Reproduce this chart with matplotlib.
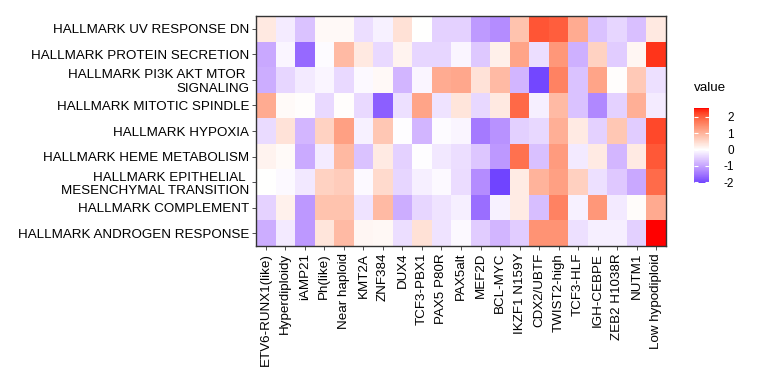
import numpy as np
import matplotlib
matplotlib.use("Agg")
import matplotlib.pyplot as plt
from matplotlib.colors import ListedColormap, Normalize

plt.rcParams["font.family"] = ["Liberation Sans", "DejaVu Sans"]
plt.rcParams["axes.unicode_minus"] = False

# gene sets (top to bottom)
pathways = [
    "HALLMARK UV RESPONSE DN",
    "HALLMARK PROTEIN SECRETION",
    "HALLMARK PI3K AKT MTOR \nSIGNALING",
    "HALLMARK MITOTIC SPINDLE",
    "HALLMARK HYPOXIA",
    "HALLMARK HEME METABOLISM",
    "HALLMARK EPITHELIAL \nMESENCHYMAL TRANSITION",
    "HALLMARK COMPLEMENT",
    "HALLMARK ANDROGEN RESPONSE",
]

subtypes = [
    "ETV6-RUNX1(like)", "Hyperdiploidy", "iAMP21", "Ph(like)", "Near haploid",
    "KMT2A", "ZNF384", "DUX4", "TCF3-PBX1", "PAX5 P80R", "PAX5alt", "MEF2D",
    "BCL-MYC", "IKZF1 N159Y", "CDX2/UBTF", "TWIST2-high", "TCF3-HLF",
    "IGH-CEBPE", "ZEB2 H1038R", "NUTM1", "Low hypodiploid",
]

uv_response_dn = [0.30, -0.20, -0.65, 0.08, 0.08, -0.35, -0.15, 0.40, 0.00, -0.50, -0.50,
                  -1.10, -1.25, 0.80, 2.10, 2.00, 1.10, -0.65, -0.45, -0.70, 0.30]
protein_secretion = [-0.95, -0.10, -1.65, -0.05, 0.90, 0.30, -0.40, 0.15, -0.45, -0.45, -0.10,
                     -0.60, 0.20, 1.20, -0.35, 1.35, -0.85, 0.60, -0.55, 0.12, 2.35]
pi3k_akt_mtor = [-0.90, -0.45, -0.22, -0.10, -0.40, -0.06, 0.08, -0.80, -0.10, 1.10, 1.15,
                 0.38, 0.90, -0.80, -2.00, 1.60, -0.65, 1.20, 0.02, 0.70, -0.33]
mitotic_spindle = [1.10, 0.07, 0.03, -0.40, 0.02, -0.40, -1.75, -0.33, 1.20, -0.30, 0.35,
                   -0.42, 0.30, 1.90, -0.18, 0.90, -0.65, -1.30, -0.50, 1.05, -0.20]
hypoxia = [-0.38, 0.38, -0.78, 0.60, 1.25, -0.15, 0.75, -0.03, -0.80, -0.04, -0.10,
           -1.45, -1.20, -0.52, -0.43, 1.05, 0.28, -0.50, 0.75, -0.55, 2.20]
heme_metabolism = [0.15, 0.07, -0.92, -0.20, 0.92, -0.65, 0.28, -0.50, -0.03, -0.25, -0.35,
                   -0.62, -1.12, 1.80, -0.68, 1.30, -0.22, 0.27, -0.78, 0.28, 2.05]
emt = [0.00, -0.07, -0.25, 0.60, 0.68, -0.07, 0.50, -0.45, -0.18, -0.07, -0.37,
       -1.25, -2.05, 0.25, 1.00, 1.25, 0.62, -0.33, -0.58, -0.95, 1.85]
complement = [-0.48, 0.18, -1.12, 0.80, 0.80, -0.30, 0.90, -0.90, -0.45, -0.30, -0.18,
              -1.60, -0.15, 0.25, -0.72, 1.60, -0.15, 1.35, -0.22, 0.04, 1.12]
androgen_response = [-0.90, -0.22, -1.12, 0.35, 0.90, 0.12, 0.10, -0.35, 0.40, -0.30, -0.07,
                     -0.55, -0.80, -0.55, 1.40, 1.40, -0.33, -0.18, -0.18, -0.52, 2.55]

values = np.array([uv_response_dn, protein_secretion, pi3k_akt_mtor, mitotic_spindle,
                   hypoxia, heme_metabolism, emt, complement, androgen_response])


# blue - white - red gradient interpolated in CIELAB (like ggplot's gradient2)
def srgb_to_lab(rgb):
    rgb = np.asarray(rgb, dtype=float)
    lin = np.where(rgb <= 0.04045, rgb / 12.92, ((rgb + 0.055) / 1.055) ** 2.4)
    m = np.array([[0.4124, 0.3576, 0.1805],
                  [0.2126, 0.7152, 0.0722],
                  [0.0193, 0.1192, 0.9505]])
    xyz = lin @ m.T / np.array([0.95047, 1.0, 1.08883])
    f = np.where(xyz > 0.008856, np.cbrt(xyz), 7.787 * xyz + 16 / 116)
    return np.stack([116 * f[..., 1] - 16,
                     500 * (f[..., 0] - f[..., 1]),
                     200 * (f[..., 1] - f[..., 2])], axis=-1)


def lab_to_srgb(lab):
    L, a, b = lab[..., 0], lab[..., 1], lab[..., 2]
    fy = (L + 16) / 116
    fx = fy + a / 500
    fz = fy - b / 200
    f = np.stack([fx, fy, fz], axis=-1)
    xyz = np.where(f > 0.206893, f ** 3, (f - 16 / 116) / 7.787)
    xyz = xyz * np.array([0.95047, 1.0, 1.08883])
    minv = np.array([[3.2406, -1.5372, -0.4986],
                     [-0.9689, 1.8758, 0.0415],
                     [0.0557, -0.2040, 1.0570]])
    lin = xyz @ minv.T
    lin = np.clip(lin, 0, 1)
    rgb = np.where(lin <= 0.0031308, 12.92 * lin, 1.055 * lin ** (1 / 2.4) - 0.055)
    return np.clip(rgb, 0, 1)


lab_blue = srgb_to_lab([0, 0, 1])
lab_white = srgb_to_lab([1, 1, 1])
lab_red = srgb_to_lab([1, 0, 0])
t = np.linspace(0, 1, 512)[:, None]
lab = np.where(t < 0.5,
               lab_blue + (lab_white - lab_blue) * (t / 0.5),
               lab_white + (lab_red - lab_white) * ((t - 0.5) / 0.5))
cmap_full = ListedColormap(lab_to_srgb(lab))

vmin, vmax = values.min(), values.max()
span = max(abs(vmin), abs(vmax))
# sample the part of the full symmetric map that the data range covers
lo = 0.5 + vmin / span * 0.5
hi = 0.5 + vmax / span * 0.5
cmap = ListedColormap(cmap_full(np.linspace(lo, hi, 256)))
norm = Normalize(vmin=vmin, vmax=vmax)

fig = plt.figure(figsize=(7.68, 3.84), dpi=100)
ax = fig.add_axes([256 / 768, 1 - 246 / 384, 410 / 768, 230 / 384])
ax.pcolormesh(values[::-1], cmap=cmap, norm=norm)

ax.set_xticks(np.arange(len(subtypes)) + 0.5)
ax.set_xticklabels(subtypes, rotation=90, fontsize=9.6, color="black")
ax.set_yticks(np.arange(len(pathways)) + 0.5)
ax.set_yticklabels(pathways[::-1], fontsize=9.6, color="black", multialignment="right")
ax.tick_params(length=3, width=0.6, color="#333333", pad=2)
ax.set_xlim(0, len(subtypes))
ax.set_ylim(0, len(pathways))
for s in ax.spines.values():
    s.set_color("#333333")
    s.set_linewidth(1.0)

# legend colour bar
cax = fig.add_axes([694 / 768, 1 - 183 / 384, 15 / 768, 75 / 384])
cb = fig.colorbar(plt.cm.ScalarMappable(norm=norm, cmap=cmap), cax=cax)
cb.outline.set_visible(False)
cb.set_ticks([-2, -1, 0, 1, 2])
cb.set_ticklabels(["-2", "-1", "0", "1", "2"])
cax.tick_params(axis="y", direction="in", length=3, width=0.8, color="white",
                left=True, right=True, labelsize=8.5, pad=18)
for lbl in cax.get_yticklabels():
    lbl.set_horizontalalignment("right")
fig.text(694 / 768, 1 - 88 / 384, "value", fontsize=9.6, va="center", ha="left")

fig.savefig("out.png", dpi=100)
